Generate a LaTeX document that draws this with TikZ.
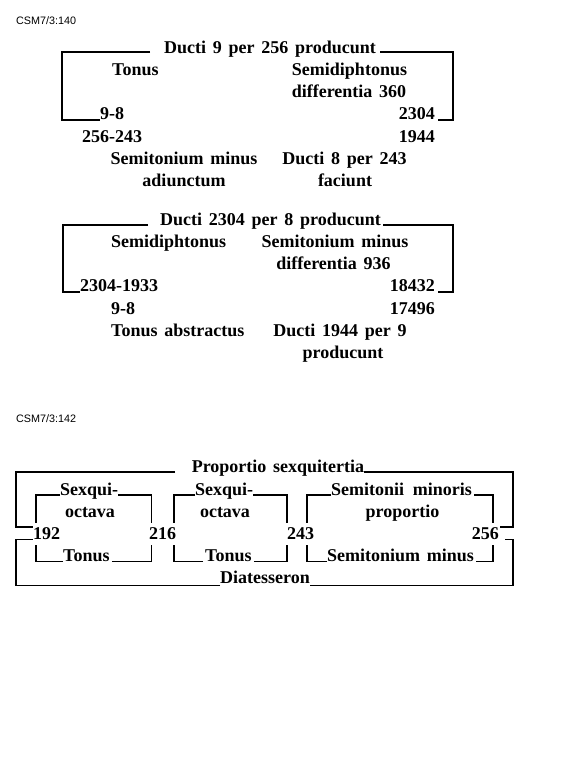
\documentclass[tikz,border=0pt]{standalone}
\usepackage{fontspec}
\setmainfont{Liberation Serif}[WordSpace=1.5]
\newfontfamily\labfont{Liberation Sans}
\begin{document}
\begin{tikzpicture}[x=1pt,y=-1pt,
  txt/.style={inner sep=0pt,font=\bfseries\fontsize{18}{20}\selectfont},
  tl/.style={txt,anchor=base west},
  tc/.style={txt,anchor=base},
  tr/.style={txt,anchor=base east},
  lab/.style={inner sep=0pt,anchor=base west,font=\labfont\fontsize{10.8}{12}\selectfont},
  br/.style={line width=1.5pt}]
\useasboundingbox[fill=white] (0,0) rectangle (576,776);

% ---------- CSM7/3:140 ----------
\node[lab] (l1) at (16,24.5) {CSM7/3:140};

\node[tc] (t1) at (270,53) {Ducti 9 per 256 producunt};
\node[tl] (a1) at (112,75.3) {Tonus};
\node[tc] (a2) at (349.5,75.3) {Semidiphtonus};
\node[tc] (a3) at (349,97.6) {differentia 360};
\node[tl] (a4) at (100,119.9) {9-8};
\node[tr] (a5) at (435,119.9) {2304};
\node[tl] (a6) at (82,142.2) {256-243};
\node[tr] (a7) at (435,142.2) {1944};
\node[tc] (a8) at (184,164.5) {Semitonium minus};
\node[tc] (a9) at (344.5,164.5) {Ducti 8 per 243};
\node[tc] (a10) at (184,186.8) {adiunctum};
\node[tc] (a11) at (345,186.8) {faciunt};

\coordinate (c1) at (62,119.9);
\coordinate (c2) at (453,119.9);
\draw[br] ([xshift=-120pt,yshift=1pt]t1.base) -| (c1) -- (a4.base west);
\draw[br] ([xshift=110pt,yshift=1pt]t1.base) -| (c2) -- ([xshift=3pt]a5.base east);

% ---------- second table ----------
\node[tc] (t2) at (270.5,225) {Ducti 2304 per 8 producunt};
\node[tl] (b1) at (111,247.3) {Semidiphtonus};
\node[tc] (b2) at (335,247.3) {Semitonium minus};
\node[tc] (b3) at (333.5,269.6) {differentia 936};
\node[tl] (b4) at (80,291.9) {2304-1933};
\node[tr] (b5) at (435,291.9) {18432};
\node[tl] (b6) at (111,314.2) {9-8};
\node[tr] (b7) at (435,314.2) {17496};
\node[tl] (b8) at (111,336.5) {Tonus abstractus};
\node[tc] (b9) at (340,336.5) {Ducti 1944 per 9};
\node[tc] (b10) at (343,358.8) {producunt};

\coordinate (c3) at (63,291.9);
\coordinate (c4) at (453,291.9);
\draw[br] ([xshift=-122.5pt]t2.base) -| (c3) -- (b4.base west);
\draw[br] ([xshift=112.5pt]t2.base) -| (c4) -- ([xshift=3pt]b5.base east);

% ---------- CSM7/3:142 ----------
\node[lab] (l2) at (16,422.5) {CSM7/3:142};

\node[tc] (t3) at (278,472) {Proportio sexquitertia};
\node[tl] (s1) at (60,495) {Sexqui-};
\node[tc] (o1) at (90,517) {octava};
\node[tl] (u1) at (63,561.5) {Tonus};
\node[tl] (s2) at (195,495) {Sexqui-};
\node[tc] (o2) at (225,517) {octava};
\node[tl] (u2) at (205,561.5) {Tonus};
\node[tl] (s3) at (331,495) {Semitonii\hspace{2pt} minoris};
\node[tc] (o3) at (402.5,517) {proportio};
\node[tl] (u3) at (327,561.5) {Semitonium minus};
\node[tl] (n1) at (33,539) {192};
\node[tl] (n2) at (149,539) {216};
\node[tl] (n3) at (287,539) {243};
\node[tr] (n4) at (499,539) {256};
\node[tc] (d) at (265,583) {Diatesseron};

% rails
\coordinate (xL) at (16,0);
\coordinate (xR) at (513,0);
\coordinate (p1) at (36,0);
\coordinate (q1) at (151.5,0);
\coordinate (p2) at (174,0);
\coordinate (q2) at (287,0);
\coordinate (p3) at (307,0);
\coordinate (q3) at (493,0);
\coordinate (gT) at (0,523);
\coordinate (gB) at (0,545);

% outer bracket
\draw[br] ([xshift=-103pt]t3.base) -| (xL |- n1.north west) -- (n1.north west);
\draw[br] ([xshift=86pt]t3.base) -| (xR |- n4.north east) -- ([xshift=1pt]n4.north east);
\draw[br] ([xshift=-45pt,yshift=-2.5pt]d.base) -| (xL |- n1.south west) -- (n1.south west);
\draw[br] ([xshift=45pt,yshift=-2.5pt]d.base) -| (xR |- n4.south east) -- ([xshift=6pt]n4.south east);

% box 1
\draw[br] (s1.base west) -| (p1 |- gT);
\draw[br] (s1.base east) -| (q1 |- gT);
\draw[br] (u1.base west) -| (p1 |- gB);
\draw[br] ([xshift=2pt]u1.base east) -| (q1 |- gB);
% box 2
\draw[br] (s2.base west) -| (p2 |- gT);
\draw[br] (s2.base east) -| (q2 |- gT);
\draw[br] ([xshift=-2pt]u2.base west) -| (p2 |- gB);
\draw[br] ([xshift=2pt]u2.base east) -| (q2 |- gB);
% box 3
\draw[br] (s3.base west) -| (p3 |- gT);
\draw[br] ([xshift=2pt]s3.base east) -| (q3 |- gT);
\draw[br] (u3.base west) -| (p3 |- gB);
\draw[br] ([xshift=2pt]u3.base east) -| (q3 |- gB);
\end{tikzpicture}
\end{document}
